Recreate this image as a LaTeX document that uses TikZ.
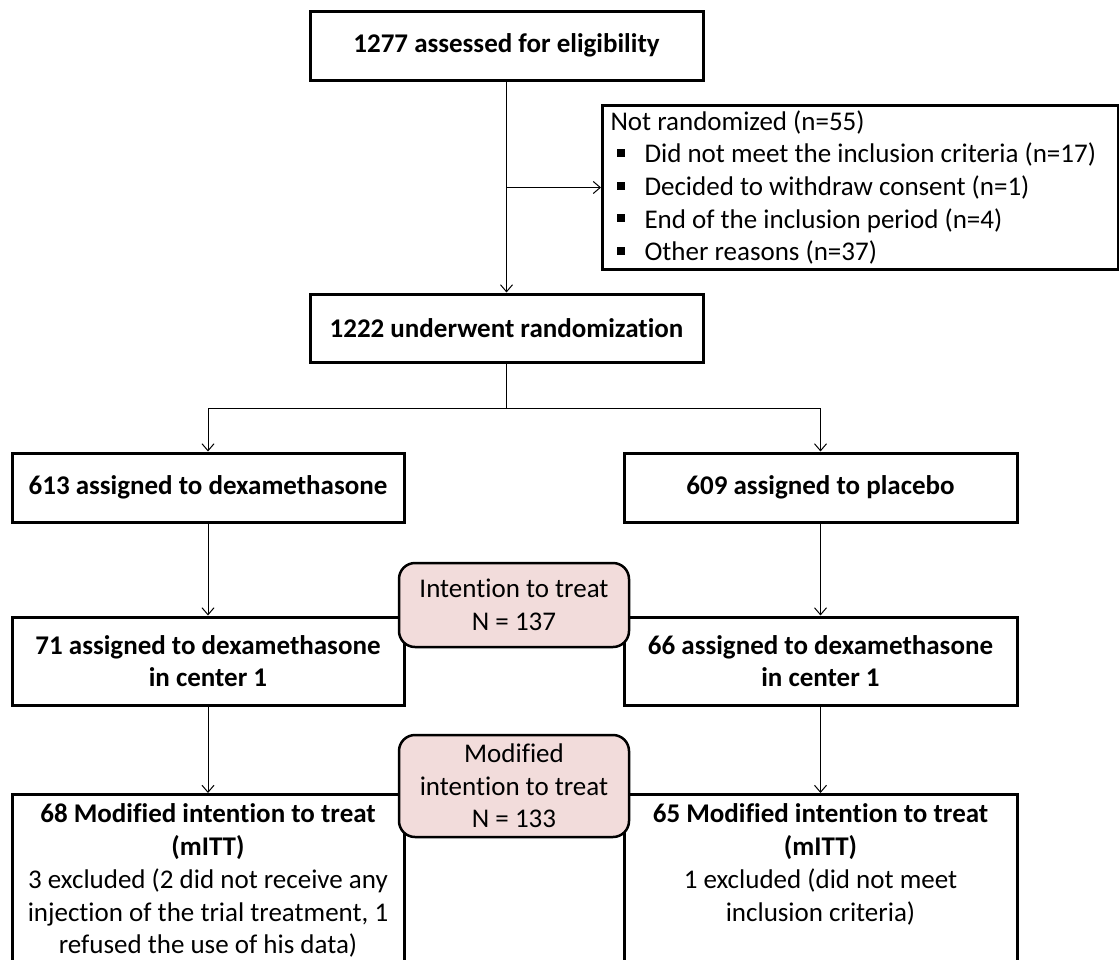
\documentclass[tikz,border=0pt]{standalone}
\usepackage{fontspec}
\setmainfont{Carlito}[Ligatures=NoCommon]
\usetikzlibrary{arrows.meta}
\definecolor{pinkfill}{RGB}{242,220,219}
\newcommand{\bulit}{\hspace*{6pt}\raisebox{6pt}{\rule{8pt}{8pt}}\hspace{20pt}}
\newcommand{\txt}{\fontsize{27}{32.7}\selectfont}
\tikzset{
  mainbox/.style={draw, line width=3pt, fill=white, align=center, inner sep=0pt},
  boldbox/.style={mainbox, font=\txt\bfseries},
  roundbox/.style={draw, line width=2.5pt, fill=pinkfill, rounded corners=16pt, align=center, inner sep=0pt, minimum width=230pt},
  conn/.style={line width=1pt},
  arr/.style={line width=1pt, -{Straight Barb[length=7pt,width=12pt]}},
}
\begin{document}
\begin{tikzpicture}[x=1pt,y=-1pt,font=\txt]
\useasboundingbox (0,0) rectangle (1119,959);
\clip (0,0) rectangle (1119,959);
% main boxes
\node[boldbox, minimum width=393pt, minimum height=69pt] (top) at (506.5,45.5) {1277 assessed for eligibility};
\node[mainbox, anchor=north west, minimum width=516pt, minimum height=164pt, text width=500pt, align=flush left, inner xsep=8pt] (nr) at (601,104)
 {Not randomized (n=55)\\
  \bulit Did not meet the inclusion criteria (n=17)\\
  \bulit Decided to withdraw consent (n=1)\\
  \bulit End of the inclusion period (n=4)\\
  \bulit Other reasons (n=37)};
\node[boldbox, minimum width=393pt, minimum height=68pt] (rand) at (506.5,328) {1222 underwent randomization};
\coordinate (split) at (506.5,408);
\node[boldbox, minimum width=392pt, minimum height=69pt] (dex) at (208,487.5) {613 assigned to dexamethasone};
\node[boldbox, minimum width=393pt, minimum height=69pt] (plac) at (820.5,487.5) {609 assigned to placebo};
\node[boldbox, minimum width=392pt, minimum height=88pt] (cl) at (208,661) {71 assigned to dexamethasone\\in center 1};
\node[boldbox, minimum width=393pt, minimum height=88pt] (cr) at (820.5,661) {66 assigned to dexamethasone\\in center 1};
\node[mainbox, anchor=north, minimum width=392pt, inner ysep=9.5pt] (bl) at (208,793)
 {\textbf{68 Modified intention to treat}\\\textbf{(mITT)}\\3 excluded (2 did not receive any\\injection of the trial treatment, 1\\refused the use of his data)\\\strut};
\node[mainbox, anchor=north, minimum width=393pt, inner ysep=9.5pt] (br) at (820.5,793)
 {\textbf{65 Modified intention to treat}\\\textbf{(mITT)}\\1 excluded (did not meet\\inclusion criteria)\\\strut\\\strut};
% rounded labels
\node[roundbox, minimum height=84pt] (itt) at (514,605) {Intention to treat\\N = 137};
\node[roundbox, minimum height=102pt] (mitt) at (514,786) {Modified\\intention to treat\\N = 133};
% connectors
\draw[arr] (top.south) -- (top.south |- rand.north);
\draw[arr] (top.south |- nr.west) -- (nr.west);
\draw[conn] (rand.south) -- (split);
\draw[arr] (split) -| (dex.north);
\draw[arr] (split) -| (plac.north);
\draw[arr] (dex.south) -- (cl.north);
\draw[arr] (plac.south) -- (cr.north);
\draw[arr] (cl.south) -- (bl.north);
\draw[arr] (cr.south) -- (br.north);
\end{tikzpicture}
\end{document}
